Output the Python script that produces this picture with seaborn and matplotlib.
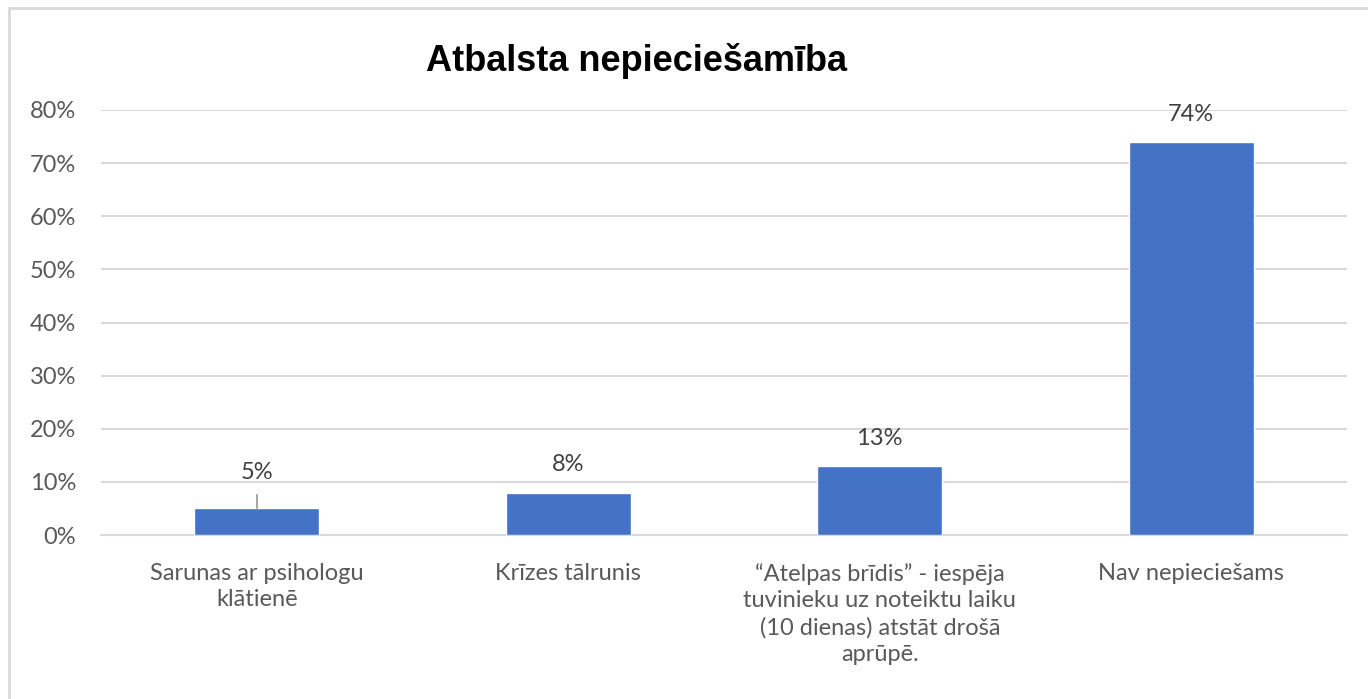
import matplotlib
matplotlib.use("Agg")
import matplotlib.pyplot as plt
import matplotlib.patches as mpatches
from matplotlib.ticker import PercentFormatter
import seaborn as sns
import pandas as pd

categories = [
    "Sarunas ar psihologu\nklātienē",
    "Krīzes tālrunis",
    "“Atelpas brīdis” - iespēja\ntuvinieku uz noteiktu laiku\n(10 dienas) atstāt drošā\naprūpē.",
    "Nav nepieciešams",
]
values = [5, 8, 13, 74]
labels = ["5%", "8%", "13%", "74%"]
title = "Atbalsta nepieciešamība"

df = pd.DataFrame({"category": categories, "value": values})

sns.set_theme(style="white")
plt.rcParams["font.family"] = ["Lato", "DejaVu Sans"]

W, H = 1368, 699
fig = plt.figure(figsize=(W / 100, H / 100), dpi=100)
ax = fig.add_axes([101 / W, 1 - 535 / H, (1347 - 101) / W, (535 - 110) / H])

sns.barplot(data=df, x="category", y="value", color="#4472C4", width=0.4,
            saturation=1, ax=ax, zorder=3)

ax.set_ylim(0, 80)
ax.set_xlim(-0.5, len(categories) - 0.5)
ax.set_yticks(range(0, 81, 10))
ax.yaxis.set_major_formatter(PercentFormatter(decimals=0))
ax.grid(axis="y", color="#D9D9D9", linewidth=1.5, zorder=0)
for s in ["top", "right", "left"]:
    ax.spines[s].set_visible(False)
ax.spines["bottom"].set_color("#D9D9D9")
ax.spines["bottom"].set_linewidth(1.5)
ax.tick_params(axis="both", length=0, labelsize=17, colors="#595959")
ax.tick_params(axis="y", pad=18)
ax.tick_params(axis="x", pad=20)
ax.set_xlabel("")
ax.set_ylabel("")
for t in ax.get_xticklabels():
    t.set_ha("center")
    t.set_multialignment("center")
    t.set_va("top")
    t.set_linespacing(1.33)

# value labels above bars; the smallest one sits higher with a leader line
for i, (v, lab) in enumerate(zip(values, labels)):
    if i == 0:
        ax.text(i, v + 6.8, lab, ha="center", va="center", fontsize=17, color="#404040")
        ax.plot([i, i], [v, v + 2.5], color="#A6A6A6", linewidth=1.5, zorder=4)
    else:
        ax.text(i, v + 5.2, lab, ha="center", va="center", fontsize=17, color="#404040")

fig.text(637 / W, 1 - 61 / H, title, ha="center", va="center", fontsize=26,
         fontweight="bold", family=["Liberation Sans", "DejaVu Sans"], color="#000000")

# chart frame
fig.add_artist(mpatches.Rectangle((9 / W, -0.1), 1.2, 1 - 8 / H + 0.1,
                                  transform=fig.transFigure, fill=False,
                                  edgecolor="#D9D9D9", linewidth=2))

fig.savefig("out.png", dpi=100)
